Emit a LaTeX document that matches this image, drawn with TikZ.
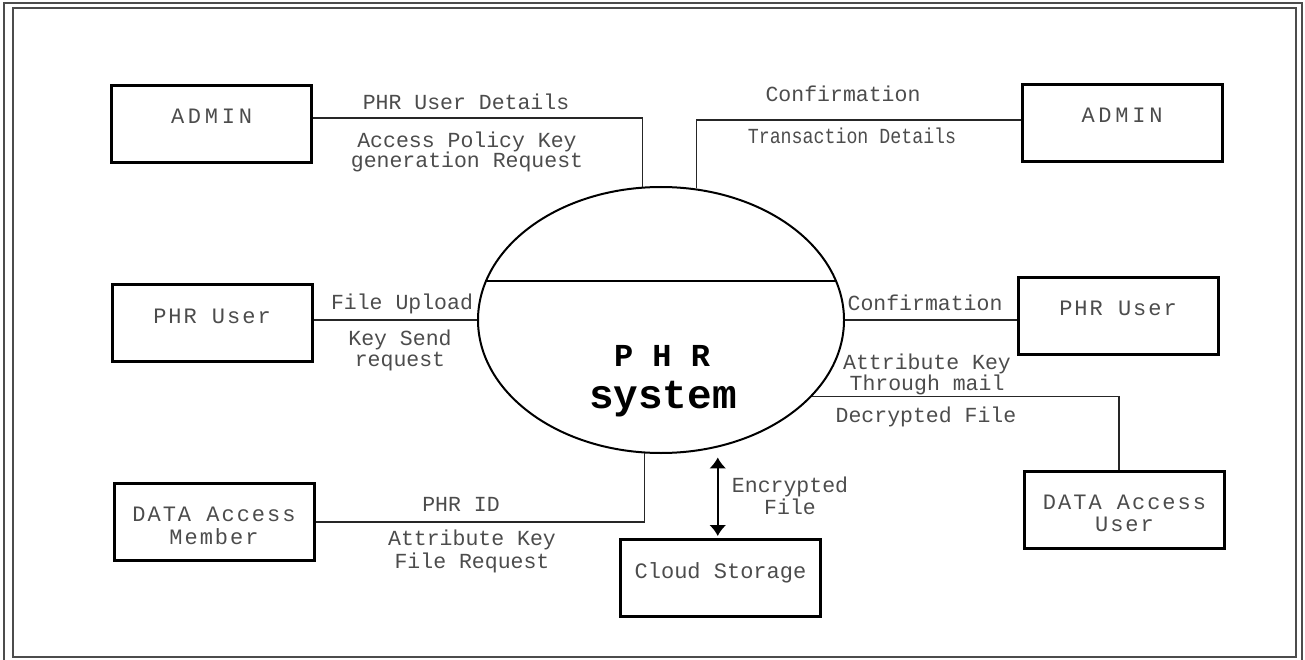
\documentclass[tikz,border=0pt]{standalone}
\usepackage{fontspec}
\setmonofont{Liberation Mono}
\usetikzlibrary{arrows.meta,shapes.geometric,calc}
\tikzset{flowtip/.tip={Latex[length=11pt,width=17pt]}}
\begin{document}
\begin{tikzpicture}[x=1pt,y=-1pt,
  ebox/.style={draw,line width=3pt,minimum width=200pt,minimum height=77pt,inner sep=0pt},
  btxt/.style={font=\fontsize{22}{26}\selectfont\ttfamily\addfontfeature{LetterSpace=9},
    text=black!70,inner sep=0pt,text height=12.5pt,text depth=0pt},
  wtxt/.style={btxt,font=\fontsize{22}{26}\selectfont\ttfamily\addfontfeature{LetterSpace=17}},
  lbl/.style={font=\fontsize{21.5}{24}\selectfont\ttfamily,text=black!70,
    inner sep=0pt,text height=12pt,text depth=0pt},
  conn/.style={line width=1.2pt,draw=black!85},
  frameline/.style={draw=black!70}]
\useasboundingbox (0,0) rectangle (1305,660);

% double page frame
\draw[frameline,line width=2.5pt] (4,3) rectangle (1302,664);
\draw[frameline,line width=1.5pt] (13,8) rectangle (1296,657);

% central process
\node[draw,ellipse,line width=2pt,minimum width=366pt,minimum height=266pt,inner sep=0pt] (sys) at (661,320) {};
\draw[line width=2pt] ($(sys.center)+(-175,-39)$) -- ($(sys.center)+(175,-39)$);
\node[font=\fontsize{32}{36}\selectfont\ttfamily\bfseries,inner sep=0pt,text height=18pt,text depth=0pt] (sysA) at (662,357) {P H R};
\node[font=\fontsize{41}{44}\selectfont\ttfamily\bfseries,inner sep=0pt,text height=17pt,text depth=0pt] (sysB) at (663,400) {system};

% external entities
\node[ebox] (adminL) at (211.5,124) {};
\node[wtxt] at ([yshift=7pt]adminL.center) {ADMIN};
\node[ebox] (adminR) at (1122,123) {};
\node[wtxt] at ([yshift=7pt]adminR.center) {ADMIN};
\node[ebox] (phrL) at (212,323) {};
\node[btxt] at ([yshift=6pt]phrL.center) {PHR User};
\node[ebox] (phrR) at (1118,316) {};
\node[btxt] at ([yshift=7pt]phrR.center) {PHR User};
\node[ebox] (dam) at (214,522) {};
\node[btxt] at ([yshift=7pt]dam.center) {DATA Access};
\node[btxt] at ([yshift=-16pt]dam.center) {Member};
\node[ebox] (cloud) at (720.5,578) {};
\node[btxt,font=\fontsize{22}{26}\selectfont\ttfamily] at ([yshift=6pt]cloud.center) {Cloud Storage};
\node[ebox] (dau) at (1124.5,510) {};
\node[btxt] at ([yshift=7pt]dau.center) {DATA Access};
\node[btxt] at ([yshift=-15pt]dau.center) {User};

% data flows
\draw[conn] (adminL.east |- 0,118) -| (sys.98);
\draw[conn] (adminR.west |- 0,120) -| (sys.75);
\draw[conn] (phrL.east |- sys.west) -- (sys.west);
\draw[conn] (sys.east) -- (sys.east -| phrR.west);
\draw[conn] (sys.-27.3) -| ([xshift=-5.5pt]dau.north);
\draw[conn] (dam.east) -| (sys.263);
\coordinate (enc) at ([yshift=-10pt]sys.-66.5);
\draw[line width=1.8pt,flowtip-flowtip,shorten >=2pt] (enc) -- (enc |- cloud.north);

% flow labels
\node[lbl] at (466,104) {PHR User Details};
\node[lbl] at (467,142) {Access Policy Key};
\node[lbl] at (467,162) {generation Request};
\node[lbl] at (843,96) {Confirmation};
\node[lbl] at (852,138) {\scalebox{0.85}[1]{Transaction Details}};
\node[lbl] at (402,303) {File Upload};
\node[lbl] at (400,339) {Key Send};
\node[lbl] at (400,360) {request};
\node[lbl] at (925,304) {Confirmation};
\node[lbl] at (927,363) {Attribute Key};
\node[lbl] at (927,384) {Through mail};
\node[lbl] at (926,416) {Decrypted File};
\node[lbl] at (461,505) {PHR ID};
\node[lbl] at (472,539) {Attribute Key};
\node[lbl] at (472,562) {File Request};
\node[lbl] at (790,486) {Encrypted};
\node[lbl] at (790,508) {File};
\end{tikzpicture}
\end{document}
